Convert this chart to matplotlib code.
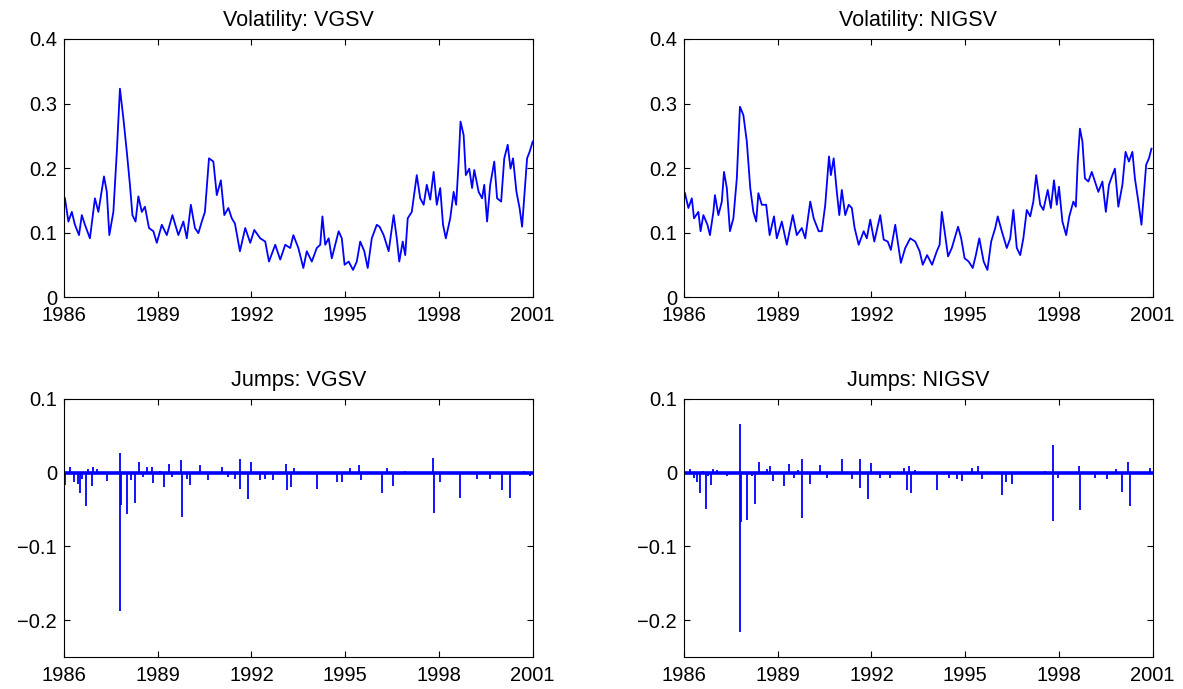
"""Stochastic-volatility fit for the S&P index, 1986-2001.

Top row: filtered volatility paths of the VG and NIG models with stochastic
volatility. Bottom row: the estimated jump component of each model.
"""

import matplotlib

matplotlib.use("Agg")
import matplotlib.pyplot as plt
from matplotlib.ticker import FuncFormatter

plt.rcParams["font.family"] = ["Liberation Sans", "DejaVu Sans"]

BLUE = (0.0, 0.0, 1.0)
YEAR_TICKS = [1986, 1989, 1992, 1995, 1998, 2001]

# volatility paths (decimal year, level)
vg_vol_t = [
    1986.03, 1986.14, 1986.25, 1986.35, 1986.48, 1986.57, 1986.67, 1986.83, 1986.99, 1987.10,
    1987.28, 1987.37, 1987.45, 1987.58, 1987.69, 1987.79, 1987.90, 1988.01, 1988.11, 1988.19,
    1988.29, 1988.38, 1988.49, 1988.59, 1988.72, 1988.86, 1988.97, 1989.13, 1989.29, 1989.47,
    1989.66, 1989.82, 1989.93, 1990.06, 1990.19, 1990.30, 1990.41, 1990.51, 1990.64, 1990.78,
    1990.89, 1991.02, 1991.13, 1991.26, 1991.37, 1991.47, 1991.63, 1991.80, 1991.96, 1992.09,
    1992.28, 1992.44, 1992.56, 1992.76, 1992.92, 1993.08, 1993.24, 1993.34, 1993.50, 1993.66,
    1993.77, 1993.93, 1994.09, 1994.20, 1994.27, 1994.36, 1994.47, 1994.57, 1994.79, 1994.89,
    1994.98, 1995.11, 1995.25, 1995.37, 1995.48, 1995.61, 1995.72, 1995.85, 1996.01, 1996.10,
    1996.23, 1996.39, 1996.55, 1996.65, 1996.73, 1996.84, 1996.92, 1997.00, 1997.13, 1997.29,
    1997.40, 1997.51, 1997.61, 1997.72, 1997.83, 1997.93, 1998.04, 1998.13, 1998.22, 1998.36,
    1998.47, 1998.55, 1998.63, 1998.69, 1998.79, 1998.86, 1998.97, 1999.06, 1999.13, 1999.27,
    1999.38, 1999.45, 1999.54, 1999.64, 1999.77, 1999.86, 1999.99, 2000.09, 2000.20, 2000.29,
    2000.37, 2000.48, 2000.58, 2000.66, 2000.76, 2000.82, 2000.90, 2001.00,
]
vg_vol = [
    0.153, 0.117, 0.132, 0.112, 0.096, 0.127, 0.112, 0.091, 0.153, 0.132,
    0.187, 0.163, 0.096, 0.132, 0.225, 0.323, 0.277, 0.225, 0.174, 0.127,
    0.117, 0.156, 0.132, 0.140, 0.107, 0.102, 0.084, 0.112, 0.096, 0.127,
    0.096, 0.117, 0.091, 0.143, 0.107, 0.099, 0.117, 0.132, 0.215, 0.210,
    0.158, 0.181, 0.127, 0.138, 0.122, 0.114, 0.071, 0.107, 0.084, 0.104,
    0.091, 0.086, 0.055, 0.081, 0.058, 0.081, 0.076, 0.096, 0.076, 0.045,
    0.071, 0.055, 0.076, 0.081, 0.125, 0.081, 0.091, 0.060, 0.102, 0.091,
    0.050, 0.055, 0.042, 0.055, 0.086, 0.071, 0.045, 0.091, 0.112, 0.109,
    0.096, 0.071, 0.127, 0.091, 0.055, 0.086, 0.065, 0.122, 0.132, 0.189,
    0.153, 0.143, 0.174, 0.151, 0.194, 0.143, 0.169, 0.112, 0.091, 0.122,
    0.163, 0.143, 0.210, 0.272, 0.251, 0.189, 0.199, 0.169, 0.197, 0.163,
    0.153, 0.174, 0.117, 0.174, 0.210, 0.153, 0.148, 0.215, 0.236, 0.199,
    0.215, 0.163, 0.138, 0.109, 0.174, 0.215, 0.225, 0.241,
]

nig_vol_t = [
    1986.03, 1986.14, 1986.25, 1986.32, 1986.46, 1986.53, 1986.62, 1986.75, 1986.83, 1986.94,
    1986.99, 1987.10, 1987.21, 1987.28, 1987.37, 1987.47, 1987.58, 1987.69, 1987.79, 1987.90,
    1988.01, 1988.12, 1988.22, 1988.31, 1988.38, 1988.49, 1988.63, 1988.74, 1988.88, 1988.97,
    1989.13, 1989.29, 1989.48, 1989.61, 1989.77, 1989.88, 1990.04, 1990.15, 1990.31, 1990.41,
    1990.52, 1990.64, 1990.70, 1990.79, 1990.89, 1990.97, 1991.05, 1991.16, 1991.27, 1991.37,
    1991.46, 1991.59, 1991.75, 1991.85, 1991.96, 1992.09, 1992.28, 1992.39, 1992.52, 1992.62,
    1992.76, 1992.87, 1992.94, 1993.08, 1993.24, 1993.40, 1993.54, 1993.64, 1993.78, 1993.94,
    1994.09, 1994.18, 1994.25, 1994.34, 1994.45, 1994.57, 1994.77, 1994.87, 1994.98, 1995.11,
    1995.24, 1995.34, 1995.45, 1995.59, 1995.71, 1995.83, 1995.96, 1996.04, 1996.17, 1996.33,
    1996.44, 1996.54, 1996.65, 1996.76, 1996.86, 1996.97, 1997.08, 1997.18, 1997.27, 1997.40,
    1997.50, 1997.64, 1997.74, 1997.84, 1997.93, 1998.00, 1998.11, 1998.23, 1998.33, 1998.46,
    1998.54, 1998.60, 1998.67, 1998.75, 1998.83, 1998.94, 1999.05, 1999.15, 1999.26, 1999.39,
    1999.50, 1999.60, 1999.71, 1999.79, 1999.90, 2000.03, 2000.13, 2000.24, 2000.35, 2000.43,
    2000.54, 2000.64, 2000.73, 2000.79, 2000.88, 2000.96,
]
nig_vol = [
    0.161, 0.138, 0.153, 0.122, 0.132, 0.102, 0.127, 0.112, 0.096, 0.132,
    0.158, 0.127, 0.148, 0.194, 0.169, 0.102, 0.122, 0.184, 0.295, 0.282,
    0.241, 0.169, 0.132, 0.117, 0.161, 0.143, 0.143, 0.096, 0.125, 0.091,
    0.117, 0.081, 0.127, 0.096, 0.107, 0.091, 0.148, 0.122, 0.102, 0.102,
    0.143, 0.218, 0.189, 0.215, 0.163, 0.127, 0.166, 0.127, 0.143, 0.138,
    0.107, 0.081, 0.102, 0.091, 0.120, 0.086, 0.127, 0.089, 0.086, 0.073,
    0.112, 0.076, 0.053, 0.076, 0.091, 0.086, 0.071, 0.050, 0.065, 0.050,
    0.071, 0.081, 0.132, 0.102, 0.063, 0.076, 0.109, 0.091, 0.060, 0.055,
    0.045, 0.065, 0.091, 0.055, 0.042, 0.086, 0.107, 0.125, 0.102, 0.076,
    0.091, 0.135, 0.076, 0.065, 0.091, 0.135, 0.125, 0.148, 0.189, 0.143,
    0.135, 0.166, 0.138, 0.181, 0.143, 0.171, 0.117, 0.096, 0.125, 0.148,
    0.140, 0.210, 0.261, 0.241, 0.184, 0.179, 0.194, 0.179, 0.163, 0.179,
    0.132, 0.174, 0.189, 0.199, 0.140, 0.174, 0.225, 0.210, 0.225, 0.184,
    0.148, 0.112, 0.169, 0.205, 0.215, 0.230,
]

# jump sizes (decimal year, size)
vg_jump_t = [
    1986.03, 1986.19, 1986.33, 1986.44, 1986.51, 1986.59, 1986.69, 1986.78, 1986.89, 1986.94,
    1987.05, 1987.37, 1987.79, 1987.80, 1987.82, 1988.01, 1988.15, 1988.27, 1988.40, 1988.54,
    1988.65, 1988.81, 1988.86, 1989.07, 1989.20, 1989.36, 1989.45, 1989.76, 1989.77, 1989.93,
    1990.03, 1990.35, 1990.60, 1991.05, 1991.26, 1991.47, 1991.62, 1991.63, 1991.88, 1991.98,
    1992.28, 1992.44, 1992.70, 1993.12, 1993.13, 1993.27, 1993.37, 1994.09, 1994.73, 1994.89,
    1995.14, 1995.43, 1995.50, 1996.17, 1996.33, 1996.53, 1996.92, 1997.82, 1997.83, 1998.04,
    1998.68, 1999.22, 1999.64, 2000.02, 2000.28, 2000.71, 2000.92,
]
vg_jump = [
    -0.017, 0.008, -0.013, -0.015, -0.028, -0.008, -0.045, 0.005, -0.018, 0.008,
    0.005, -0.011, -0.188, 0.027, -0.044, -0.056, -0.010, -0.041, 0.014, -0.006,
    0.008, 0.008, -0.014, 0.003, -0.020, 0.012, -0.006, 0.017, -0.060, -0.009,
    -0.016, 0.011, -0.010, 0.008, -0.006, -0.009, 0.019, -0.022, -0.035, 0.014,
    -0.010, -0.009, -0.010, 0.012, -0.023, -0.020, 0.007, -0.022, -0.012, -0.012,
    0.007, 0.011, -0.010, -0.028, 0.007, -0.018, 0.003, 0.020, -0.055, -0.012,
    -0.034, -0.009, -0.009, -0.023, -0.034, 0.003, -0.005,
]

nig_jump_t = [
    1986.00, 1986.19, 1986.32, 1986.41, 1986.51, 1986.62, 1986.69, 1986.78, 1986.87, 1986.94,
    1987.05, 1987.37, 1987.78, 1987.79, 1987.82, 1988.03, 1988.17, 1988.28, 1988.40, 1988.65,
    1988.76, 1988.86, 1989.21, 1989.37, 1989.53, 1989.66, 1989.78, 1989.79, 1990.04, 1990.36,
    1990.59, 1991.05, 1991.37, 1991.63, 1991.64, 1991.89, 1991.98, 1992.28, 1992.60, 1993.03,
    1993.14, 1993.19, 1993.26, 1993.40, 1994.09, 1994.47, 1994.73, 1994.89, 1995.21, 1995.40,
    1995.55, 1996.17, 1996.30, 1996.51, 1997.56, 1997.81, 1997.82, 1997.98, 1998.65, 1998.66,
    1999.15, 1999.53, 1999.81, 2000.01, 2000.20, 2000.28, 2000.91,
]
nig_jump = [
    -0.017, 0.005, -0.007, -0.013, -0.028, 0.003, -0.049, -0.005, -0.016, 0.005,
    0.004, -0.005, 0.066, -0.216, -0.067, -0.064, -0.005, -0.043, 0.014, 0.005,
    0.009, -0.011, -0.018, 0.012, -0.007, 0.004, 0.018, -0.062, -0.015, 0.011,
    -0.007, 0.018, -0.008, 0.019, -0.021, -0.036, 0.013, -0.007, -0.007, 0.007,
    -0.023, 0.009, -0.028, 0.004, -0.023, -0.007, -0.009, -0.011, 0.007, 0.009,
    -0.009, -0.030, -0.013, -0.015, 0.003, 0.037, -0.065, -0.007, 0.009, -0.050,
    -0.007, -0.009, 0.005, -0.026, 0.014, -0.045, 0.007,
]


def tick_label(v, _pos):
    return f"{v:g}".replace("-", "\u2212")


def style_axes(ax, title, ylim, yticks):
    ax.set_xlim(1986, 2001)
    ax.set_ylim(*ylim)
    ax.set_xticks(YEAR_TICKS)
    ax.set_yticks(yticks)
    ax.yaxis.set_major_formatter(FuncFormatter(tick_label))
    ax.tick_params(direction="in", top=True, right=True, length=4, width=0.8,
                   labelsize=14.5, colors="black")
    ax.tick_params(axis="x", pad=6.5)
    ax.tick_params(axis="y", pad=5)
    for sp in ax.spines.values():
        sp.set_linewidth(0.8)
    ax.set_title(title, fontsize=15.5, pad=9)


fig = plt.figure(figsize=(11.83, 6.89), dpi=100)
left_x, right_x, width = 0.0541, 0.5782, 0.3962
top_y, bottom_y, height = 0.5689, 0.0464, 0.3745

ax_vg = fig.add_axes([left_x, top_y, width, height])
ax_nig = fig.add_axes([right_x, top_y, width, height])
ax_vgj = fig.add_axes([left_x, bottom_y, width, height])
ax_nigj = fig.add_axes([right_x, bottom_y, width, height])

vol_ticks = [0, 0.1, 0.2, 0.3, 0.4]
ax_vg.plot(vg_vol_t, vg_vol, color=BLUE, lw=1.3)
style_axes(ax_vg, "Volatility: VGSV", (0, 0.4), vol_ticks)
ax_nig.plot(nig_vol_t, nig_vol, color=BLUE, lw=1.3)
style_axes(ax_nig, "Volatility: NIGSV", (0, 0.4), vol_ticks)

jump_ticks = [-0.2, -0.1, 0, 0.1]
for ax, t, j, title in [(ax_vgj, vg_jump_t, vg_jump, "Jumps: VGSV"),
                        (ax_nigj, nig_jump_t, nig_jump, "Jumps: NIGSV")]:
    ax.axhline(0, color=BLUE, lw=2.6)
    ax.vlines(t, 0, j, color=BLUE, lw=1.3)
    style_axes(ax, title, (-0.25, 0.1), jump_ticks)

fig.savefig("out.png", dpi=100)
plt.close(fig)
